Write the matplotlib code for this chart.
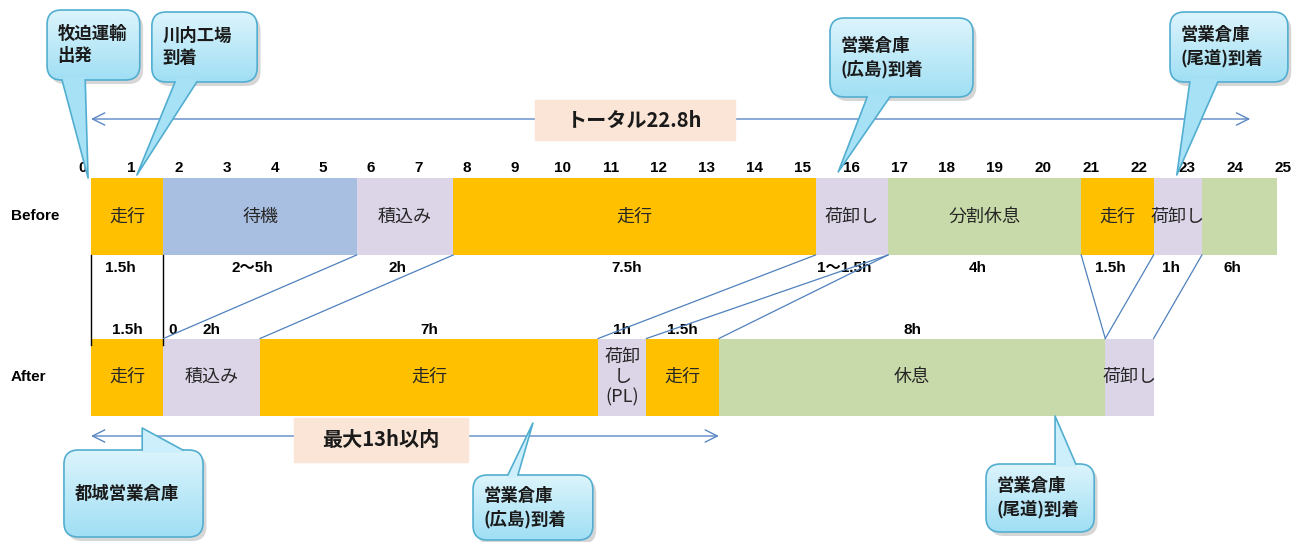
import numpy as np
import matplotlib
matplotlib.use('Agg')
import matplotlib.pyplot as plt
from matplotlib.patches import Rectangle, FancyBboxPatch, Polygon
from matplotlib.colors import LinearSegmentedColormap

plt.rcParams['font.family'] = ['Noto Sans CJK JP', 'DejaVu Sans']
plt.rcParams['hatch.linewidth'] = 0.45

# ---- data ----
hour_ticks = list(range(26))

before_tasks = ['走行', '待機', '積込み', '走行', '荷卸し', '分割休息', '走行', '荷卸し', '']
before_hours = [1.5, 4.0, 2.0, 7.5, 1.5, 4.0, 1.5, 1.0, 1.55]
before_kind = ['drive', 'wait', 'load', 'drive', 'load', 'rest', 'drive', 'load', 'rest']
before_text = ['1.5h', '2～5h', '2h', '7.5h', '1～1.5h', '4h', '1.5h', '1h', '6h']

after_tasks = ['走行', '積込み', '走行', '荷卸\nし\n(PL)', '走行', '休息', '荷卸し']
after_hours = [1.5, 2.0, 7.0, 1.0, 1.5, 8.0, 1.0]
after_kind = ['drive', 'load', 'drive', 'load', 'drive', 'rest', 'load']
after_text = ['1.5h', '2h', '7h', '1h', '1.5h', '8h', '']

# which boundary in Before maps to which boundary in After
link_before = [5.5, 7.5, 15.0, 16.5, 16.5, 20.5, 22.0, 23.0]
link_after = [1.5, 3.5, 10.5, 11.5, 13.0, 21.0, 21.0, 22.0]

total_span = 24.0     # トータル arrow
max_span = 13.0       # 最大 arrow

# ---- styles ----
styles = {
    'drive': dict(color='#FFC000', hatch=None, hc='#FFC000'),
    'wait': dict(color='#e6edf7', hatch='|' * 30, hc='#a9bfe1'),
    'load': dict(color='#f8f6fa', hatch='+' * 24, hc='#dcd4e7'),
    'rest': dict(color='#f5f8ee', hatch='-' * 30, hc='#c8daa9'),
}
num_font = ['Liberation Sans', 'Noto Sans CJK JP']
line_col = '#4f81bd'
px_per_h = 48.3

fig = plt.figure(figsize=(12.94, 5.42), dpi=100)
ax = fig.add_axes([0, 0, 1, 1])
ax.axis('off')

y_before, y_after, bar_h = 216.5, 377, 77


def draw_row(tasks, hours, kinds, yc, fs=13):
    left = np.concatenate([[0], np.cumsum(hours)[:-1]])
    for t, w, l, k in zip(tasks, hours, left, kinds):
        st = styles[k]
        ax.barh(yc, w, left=l, height=bar_h, color=st['color'], hatch=st['hatch'],
                edgecolor=st['hc'], linewidth=0, zorder=2)
        if t:
            ax.text(l + w / 2, yc, t, ha='center', va='center', fontsize=fs,
                    color='#262626', zorder=3, linespacing=1.15)
    return left


lb = draw_row(before_tasks, before_hours, before_kind, y_before)
la = draw_row(after_tasks, after_hours, after_kind, y_after)

# duration labels
for l, w, t in zip(lb, before_hours, before_text):
    ax.text(l + w / 2 - 0.15, 268, t, ha='center', va='center', fontsize=11,
            fontweight='bold', family=num_font, zorder=3)
for l, w, t in zip(la, after_hours, after_text):
    ax.text(l + w / 2, 330, t, ha='center', va='center', fontsize=11,
            fontweight='bold', family=num_font, zorder=3)
ax.text(la[1] + 0.18, 330, '0', ha='center', va='center', fontsize=11,
        fontweight='bold', family=num_font, zorder=3)

# hour scale
for h in hour_ticks:
    ax.text(h * 0.994 - 0.17, 168, str(h), ha='center', va='center', fontsize=11,
            fontweight='bold', family=num_font)

ax.text(-1.16, y_before, 'Before', ha='center', va='center', fontsize=11,
        fontweight='bold', family=num_font)
ax.text(-1.30, y_after, 'After', ha='center', va='center', fontsize=11,
        fontweight='bold', family=num_font)

# connector lines
yb_bot = y_before + bar_h / 2
ya_top = y_after - bar_h / 2
for x in [0, before_hours[0]]:
    ax.plot([x, x], [yb_bot, ya_top + 6], color='black', lw=1, zorder=3)
for b, a in zip(link_before, link_after):
    ax.plot([b, a], [yb_bot, ya_top], color=line_col, lw=0.9, zorder=3)

# span arrows + labels
def span(x1, y, text, box):
    ax.annotate('', xy=(0, y), xytext=(x1, y),
                arrowprops=dict(arrowstyle='<->', color='#5b87c5', lw=1,
                                shrinkA=0, shrinkB=0, mutation_scale=22), zorder=3)
    bx0, bx1, by0, by1 = box
    ax.add_patch(Rectangle((bx0, by0), bx1 - bx0, by1 - by0, color='#fbe5d6', zorder=4))
    ax.text((bx0 + bx1) / 2, (by0 + by1) / 2, text, ha='center', va='center',
            fontsize=14.5, fontweight='bold', zorder=5, color='#1a1a1a')


span(total_span, 119, 'トータル22.8h', (9.19, 13.33, 100, 140))
span(max_span, 436, '最大13h以内', (4.20, 7.81, 418, 462))

# callouts
cmap = LinearSegmentedColormap.from_list('cl', ['#dcf4fc', '#a0dff4'])
grad = np.linspace(0, 1, 100).reshape(-1, 1)
edge = '#52aed0'


def callout(box, base, tip, text, up=False):
    x0, x1, y0, y1 = box
    sh = FancyBboxPatch((x0 + 0.07, y0 + 4), x1 - x0, y1 - y0,
                        boxstyle='round,pad=0,rounding_size=0.3', mutation_aspect=px_per_h,
                        fc='#8a8a8a', ec='none', alpha=0.35, zorder=5)
    ax.add_patch(sh)
    p = FancyBboxPatch((x0, y0), x1 - x0, y1 - y0,
                       boxstyle='round,pad=0,rounding_size=0.3', mutation_aspect=px_per_h,
                       fc='none', ec=edge, lw=1.2, zorder=7)
    ax.add_patch(p)
    im = ax.imshow(grad, cmap=cmap, extent=(x0, x1, y1, y0), origin='upper',
                   aspect='auto', zorder=6)
    im.set_clip_path(p)
    yb = y0 if up else y1
    inner = yb + 3 if up else yb - 3
    fill = '#cdeffb' if up else '#a6e1f5'
    ax.add_patch(Polygon([(base[0], inner), (base[0], yb), tip, (base[1], yb), (base[1], inner)],
                         closed=True, fc=fill, ec='none', zorder=8))
    ax.plot([base[0], tip[0], base[1]], [yb, tip[1], yb], color=edge, lw=1.2, zorder=8)
    ax.text(x0 + 0.22, (y0 + y1) / 2, text, ha='left', va='center', fontsize=12.5,
            fontweight='bold', linespacing=1.35, zorder=9, color='#1a1a1a')


callout((-0.91, 1.01, 10, 80), (-0.60, -0.12), (-0.06, 178), '牧迫運輸\n出発')
callout((1.26, 3.44, 12, 82), (1.74, 2.19), (0.95, 175), '川内工場\n到着')
callout((15.30, 18.26, 18, 97), (16.07, 16.54), (15.47, 172), '営業倉庫\n(広島)到着')
callout((22.34, 24.78, 12, 82), (22.75, 23.33), (22.48, 175), '営業倉庫\n(尾道)到着')
callout((-0.56, 2.32, 450, 537), (1.06, 1.90), (1.06, 428), '都城営業倉庫', up=True)
callout((7.91, 10.39, 475, 540), (8.63, 8.84), (9.15, 423), '営業倉庫\n(広島)到着', up=True)
callout((18.53, 20.77, 464, 532), (19.96, 20.39), (19.96, 416), '営業倉庫\n(尾道)到着', up=True)

ax.set_xlim(-91 / px_per_h, (1294 - 91) / px_per_h)
ax.set_ylim(542, 0)

fig.savefig('out.png', dpi=100, facecolor='white')
